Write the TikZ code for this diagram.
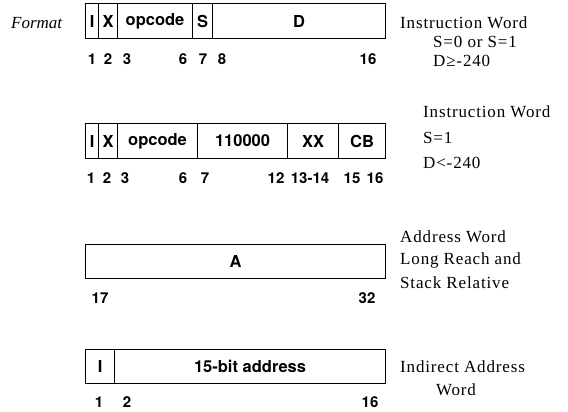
\documentclass[tikz,border=0pt]{standalone}
\usepackage{fontspec}
\setmainfont{Liberation Serif}
\newfontfamily\labfont{TeX Gyre Heros}
\newfontfamily\remfont[LetterSpace=5]{Liberation Serif}
\begin{document}
\begin{tikzpicture}[x=1pt,y=-1pt,
  field/.style={draw, line width=1.1pt, minimum height=35pt, inner sep=0pt, anchor=north west,
    font=\labfont\bfseries\fontsize{16.5}{16.5}\selectfont},
  num/.style={inner sep=0pt, font=\labfont\bfseries\fontsize{15}{15}\selectfont},
  rem/.style={inner sep=0pt, anchor=west, font=\remfont\fontsize{17}{17}\selectfont},
  fmt/.style={inner sep=0pt, anchor=west, font=\itshape\fontsize{17}{17}\selectfont}]
\useasboundingbox (0,0) rectangle (568,412);

% Row 1
\node[fmt] (format) at (11,23) {Format};
\node[field, minimum width=13pt] (r1i) at (85,3) {I};
\node[field, minimum width=19pt] (r1x) at (98,3) {X};
\node[field, minimum width=75pt] (r1op) at (117,3) {opcode};
\node[field, minimum width=20pt] (r1s) at (192,3) {S};
\node[field, minimum width=173pt] (r1d) at (212,3) {D};
\node[num] (n11) at (92,59) {1};
\node[num] (n12) at (108,59) {2};
\node[num] (n13) at (127,59) {3};
\node[num] (n16) at (183,59) {6};
\node[num] (n17) at (203,59) {7};
\node[num] (n18) at (222,59) {8};
\node[num] (n116) at (368,59) {16};
\node[rem] (t11) at (400,23) {Instruction Word};
\node[rem] (t12) at (433,42) {S=0 or S=1};
\node[rem] (t13) at (433,61) {D≥-240};

% Row 2
\node[field, minimum width=13pt] (r2i) at (85,123) {I};
\node[field, minimum width=19pt] (r2x) at (98,123) {X};
\node[field, minimum width=80pt] (r2op) at (117,123) {opcode};
\node[field, minimum width=90pt] (r2c) at (197,123) {110000};
\node[field, minimum width=51pt] (r2xx) at (287,123) {XX};
\node[field, minimum width=47pt] (r2cb) at (338,123) {CB};
\node[num] (n21) at (91,178) {1};
\node[num] (n22) at (107,178) {2};
\node[num] (n23) at (125,178) {3};
\node[num] (n26) at (183,178) {6};
\node[num] (n27) at (205,178) {7};
\node[num] (n212) at (276,178) {12};
\node[num] (n213) at (310,178) {13-14};
\node[num] (n215) at (352,178) {15};
\node[num] (n216) at (375,178) {16};
\node[rem] (t21) at (423,112) {Instruction Word};
\node[rem] (t22) at (423,138) {S=1};
\node[rem] (t23) at (423,163) {D<-240};

% Row 3
\node[field, minimum width=300pt, minimum height=34pt] (r3a) at (85,244) {A};
\node[num] (n317) at (100,298) {17};
\node[num] (n332) at (367,298) {32};
\node[rem] (t31) at (400,237) {Address Word};
\node[rem] (t32) at (400,260) {Long Reach and};
\node[rem] (t33) at (400,283) {Stack Relative};

% Row 4
\node[field, minimum width=29pt, minimum height=34pt] (r4i) at (85,349) {I};
\node[field, minimum width=271pt, minimum height=34pt] (r4a) at (114,349) {15-bit address};
\node[num] (n41) at (99,402) {1};
\node[num] (n42) at (127,402) {2};
\node[num] (n416) at (370,402) {16};
\node[rem] (t41) at (400,367) {Indirect Address};
\node[rem, anchor=center] (t42) at (456,390) {Word};
\end{tikzpicture}
\end{document}
